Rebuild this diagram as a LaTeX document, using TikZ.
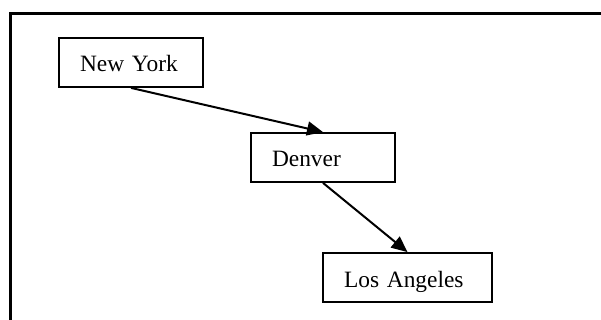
\documentclass[tikz,border=0pt]{standalone}
\usepackage{fontspec}
\setmainfont{Liberation Serif}
\usetikzlibrary{arrows.meta}
\begin{document}
\begin{tikzpicture}[x=1pt,y=-1pt,
  city/.style={draw, line width=1.8pt, inner xsep=21pt, inner ysep=0pt,
    minimum height=49pt, align=left, text height=22pt, text depth=3pt,
    font=\fontsize{23.4pt}{28pt}\selectfont},
  route/.style={line width=2pt, -{Triangle[length=16pt,width=14pt]}}]
  \useasboundingbox (0,0) rectangle (601,320);
  % open frame: left and top sides only
  \draw[line width=2.2pt] (10.5,321) -- (10.5,13.5) -- (602,13.5);
  % stops
  \node[city, text width=102pt] (ny)  at (131,62.5)   {New York};
  \node[city, text width=102pt] (den) at (323,157.5)  {Denver};
  \node[city, text width=127pt] (la)  at (407.5,277.5) {Los Angeles};
  % routes, from the bottom middle of one box to the top middle of the next
  \draw[route] (ny.south) -- (den.north);
  \draw[route] (den.south) -- (la.north);
\end{tikzpicture}
\end{document}
